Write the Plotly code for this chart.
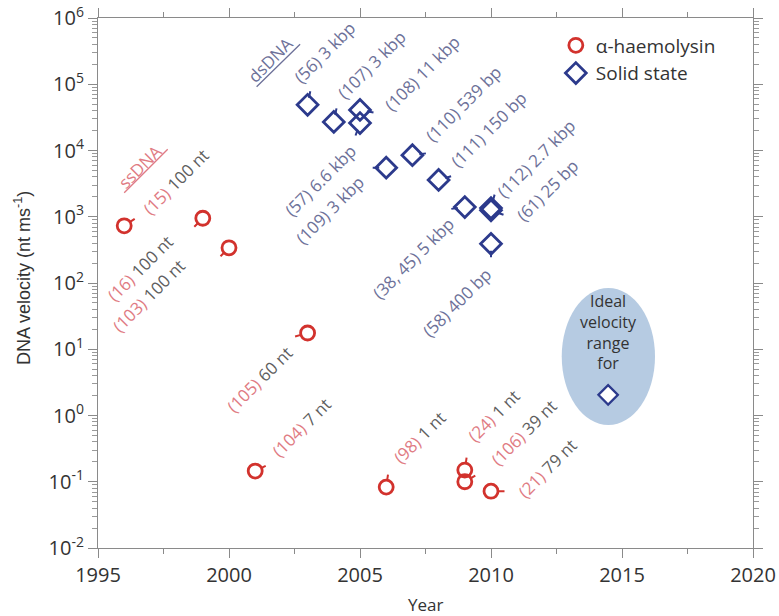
import numpy as np
import plotly.graph_objects as go

# ---------------- data ----------------
alpha_years = [1996, 1999, 2000, 2003, 2001, 2006, 2009, 2009, 2010]
alpha_vel = [730, 950, 340, 17.6, 0.145, 0.083, 0.15, 0.10, 0.072]
alpha_ref = ["(15)", "(16)", "(103)", "(105)", "(104)", "(98)", "(24)", "(106)", "(21)"]
alpha_len = ["100 nt", "100 nt", "100 nt", "60 nt", "7 nt", "1 nt", "1 nt", "39 nt", "79 nt"]

solid_years = [2003, 2004, 2005, 2005, 2006, 2007, 2008, 2009, 2010, 2010, 2010]
solid_vel = [49000, 27000, 41000, 26000, 5500, 8500, 3600, 1400, 1350, 1250, 390]
solid_ref = ["(56)", "(107)", "(108)", "(57)", "(109)", "(110)", "(111)", "(38, 45)", "(112)", "(61)", "(58)"]
solid_len = ["3 kbp", "3 kbp", "11 kbp", "6.6 kbp", "3 kbp", "539 bp", "150 bp", "5 kbp", "2.7 kbp", "25 bp", "400 bp"]

ideal_year = [2014.47]
ideal_vel = [2.05]
ideal_x_range = [2012.7, 2016.26]
ideal_v_range = [0.72, 84]

y_tickvals = [1e-2, 1e-1, 1, 10, 100, 1e3, 1e4, 1e5, 1e6]
y_ticktext = ["10<sup>-2</sup>", "10<sup>-1</sup>", "10<sup>0</sup>", "10<sup>1</sup>", "10<sup>2</sup>",
              "10<sup>3</sup>", "10<sup>4</sup>", "10<sup>5</sup>", "10<sup>6</sup>"]
x_tickvals = [1995, 2000, 2005, 2010, 2015, 2020]
x_minor_vals = [1997.5, 2002.5, 2007.5, 2012.5, 2017.5]
y_minor_vals = [k * 10.0 ** n for n in range(-2, 6) for k in range(2, 10)]

# ---------------- styling (label offsets in pixels) ----------------
RED = "#d2322d"
BLUE = "#2c3a8c"
RED_LBL = "#e07b83"
GRAY_LBL = "#5f5f5f"
BLUE_LBL = "#6d7199"
AXC = "#8a8a8a"
FONT = "Open Sans"
LBL_SIZE = 17

alpha_lbl_shift = [(52, 44), (-63, -50), (-80, -48), (-48, -47), (46, 44), (33, 50), (29, 55), (59, 49), (56, 23)]
alpha_stick = [(12, -8), (-10, 10), (-10, 10), (-14, 4), (12, -6), (2, -14), (2, -14), (12, -7), (15, 0)]
solid_lbl_shift = [(17, 52), (38, 57), (62, 36), (-40, -57), (-56, -42), (51, 52), (50, 50), (-52, -51),
                   (45, 50), (56, 20), (-34, -59)]
solid_stick = [(3, -15), (3, -15), (15, 3), (-5, 14), (-15, 0), (15, -2), (14, -4), (-15, 2),
               (4, -15), (14, 5), (0, 15)]

fig = go.Figure()

fig.add_shape(type="circle", xref="x", yref="y",
              x0=ideal_x_range[0], x1=ideal_x_range[1], y0=ideal_v_range[0], y1=ideal_v_range[1],
              fillcolor="#b6cbe2", line=dict(width=0), layer="below")

fig.add_trace(go.Scatter(x=alpha_years, y=alpha_vel, mode="markers", name="α-haemolysin",
                         marker=dict(symbol="circle-open", size=14, color=RED, line=dict(width=2.8))))
fig.add_trace(go.Scatter(x=solid_years, y=solid_vel, mode="markers", name="Solid state",
                         marker=dict(symbol="diamond-open", size=16, color=BLUE, line=dict(width=2.8))))
fig.add_trace(go.Scatter(x=ideal_year, y=ideal_vel, mode="markers", showlegend=False,
                         marker=dict(symbol="diamond", size=15, color="white", line=dict(width=2.2, color=BLUE))))

ann = []


def add_labels(xs, vs, refs, lens, shifts, sticks, color, refcol, lencol):
    for x, v, r, l, (sx, sy), (ax, ay) in zip(xs, vs, refs, lens, shifts, sticks):
        ly = float(np.log10(v))
        ann.append(dict(x=x, y=ly, xref="x", yref="y", text="", showarrow=True, arrowhead=0,
                        arrowwidth=2, arrowcolor=color, ax=ax, ay=ay, standoff=7))
        ann.append(dict(x=x, y=ly, xref="x", yref="y", showarrow=False, textangle=-45,
                        xshift=sx, yshift=sy,
                        text=f"<span style='color:{refcol}'>{r}</span> <span style='color:{lencol}'>{l}</span>",
                        font=dict(size=LBL_SIZE, family=FONT)))


add_labels(alpha_years, alpha_vel, alpha_ref, alpha_len, alpha_lbl_shift, alpha_stick, RED, RED_LBL, GRAY_LBL)
add_labels(solid_years, solid_vel, solid_ref, solid_len, solid_lbl_shift, solid_stick, BLUE, BLUE_LBL, BLUE_LBL)

# group headers
ann.append(dict(x=alpha_years[0], y=float(np.log10(alpha_vel[0])), xref="x", yref="y", showarrow=False,
                text="ssDNA", textangle=-45, xshift=16, yshift=59,
                font=dict(size=LBL_SIZE, family=FONT, color=RED_LBL)))
ann.append(dict(x=alpha_years[0], y=float(np.log10(alpha_vel[0])), xref="x", yref="y", text="", showarrow=True,
                arrowhead=0, arrowwidth=1.3, arrowcolor=RED_LBL, ax=45, ay=-45, standoff=0, xshift=0, yshift=33))
ann.append(dict(x=solid_years[0], y=float(np.log10(solid_vel[0])), xref="x", yref="y", showarrow=False,
                text="dsDNA", textangle=-45, xshift=-37, yshift=45,
                font=dict(size=LBL_SIZE, family=FONT, color=BLUE_LBL)))
ann.append(dict(x=solid_years[0], y=float(np.log10(solid_vel[0])), xref="x", yref="y", text="", showarrow=True,
                arrowhead=0, arrowwidth=1.3, arrowcolor=BLUE_LBL, ax=45, ay=-44, standoff=0, xshift=-51, yshift=18))

# ideal text
ann.append(dict(x=ideal_year[0], y=float(np.log10(ideal_vel[0])), xref="x", yref="y", showarrow=False,
                text="Ideal<br>velocity<br>range<br>for", yshift=63,
                font=dict(size=16, family=FONT, color="#333333")))

# axis titles
ann.append(dict(x=0.5, y=0, xref="paper", yref="paper", showarrow=False, text="Year",
                yanchor="middle", yshift=-56, font=dict(size=17, family=FONT, color="#333333")))
ann.append(dict(x=0, y=0.5, xref="paper", yref="paper", showarrow=False,
                text="DNA velocity (nt ms<sup>-1</sup>)", textangle=-90,
                xanchor="center", xshift=-76, yshift=5,
                font=dict(size=18, family="Liberation Sans", color="#333333")))

fig.update_layout(
    width=779, height=616,
    margin=dict(l=98, r=26, t=18, b=68, autoexpand=False),
    paper_bgcolor="white", plot_bgcolor="white",
    font=dict(family=FONT, size=20, color="#333333"),
    annotations=ann,
    legend=dict(x=0.699, y=0.984, xanchor="left", yanchor="top", bgcolor="rgba(0,0,0,0)",
                font=dict(size=19, color="#333333"), itemwidth=30, tracegroupgap=0),
    xaxis=dict(range=[1995, 2020], tickvals=x_tickvals, ticks="outside", ticklen=9, tickcolor=AXC,
               showline=True, linecolor=AXC, linewidth=1.2, mirror="allticks", showgrid=False, zeroline=False,
               automargin=False, ticklabeloverflow="allow",
               minor=dict(tickvals=x_minor_vals, ticks="outside", ticklen=5, tickcolor=AXC, showgrid=False),
               tickfont=dict(size=20, color="#333333")),
    yaxis=dict(type="log", range=[-2, 6], tickvals=y_tickvals, ticktext=y_ticktext, ticks="outside", ticklen=9,
               tickcolor=AXC, showline=True, linecolor=AXC, linewidth=1.2, mirror="allticks",
               showgrid=False, zeroline=False, automargin=False, ticklabeloverflow="allow",
               minor=dict(tickvals=y_minor_vals, ticks="outside", ticklen=5, tickcolor="#9a9a9a", showgrid=False),
               tickfont=dict(size=20, color="#333333")),
)

# remove the browser's default 8px body margin so the figure sits at the window origin
fig.write_html("out.html", config={"displayModeBar": False},
               post_script="document.body.style.margin='0px';document.body.style.overflow='hidden';")
